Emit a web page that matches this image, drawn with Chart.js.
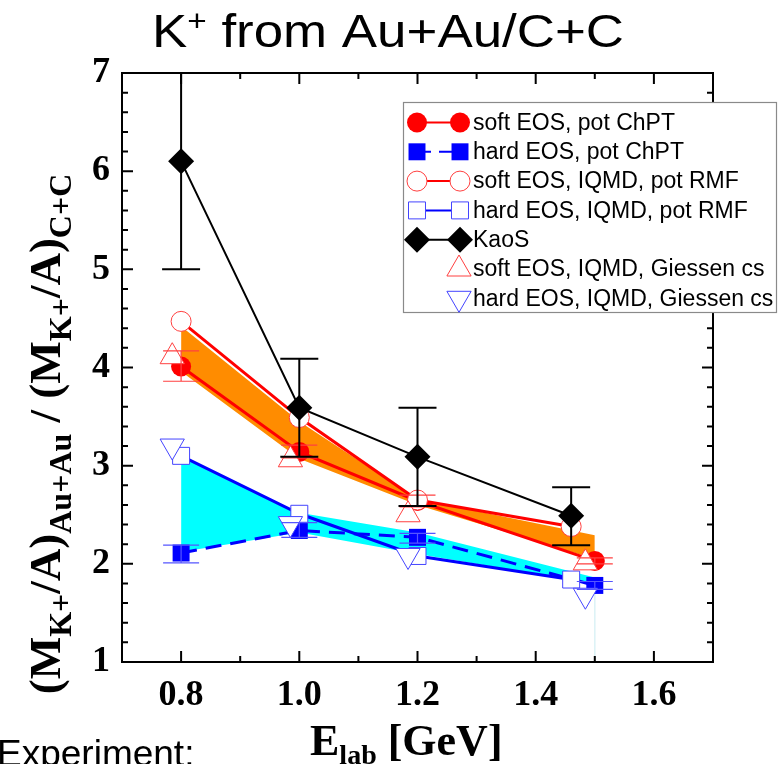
<!DOCTYPE html>
<html>
<head>
<meta charset="utf-8">
<script src="https://cdn.jsdelivr.net/npm/chart.js@4"></script>
<style>
  html, body { margin: 0; padding: 0; background: #ffffff; }
  #wrap { width: 781px; height: 764px; position: relative; overflow: hidden; }
</style>
</head>
<body>
<div id="wrap"><canvas id="c" width="781" height="764"></canvas></div>
<script>
// ---- data: K+ multiplicity ratio (Au+Au / C+C) versus beam energy ----
const energies = [0.8, 1.0, 1.2, 1.5];
const softChPT = [4.01, 3.14, 2.64, 2.03];
const softChPTLo = [3.86, 3.08, 2.58, 2.00];
const softChPTHi = [4.17, 3.21, 2.70, 2.06];
const hardChPT = [2.11, 2.34, 2.27, 1.78];
const hardChPTLo = [2.01, 2.27, 2.21, 1.74];
const hardChPTHi = [2.19, 2.42, 2.31, 1.82];

const rmfEnergies = [0.8, 1.0, 1.2, 1.46];
const softRMF = [4.47, 3.49, 2.65, 2.38];
const hardRMF = [3.10, 2.51, 2.08, 1.84];

const kaosEnergies = [0.8, 1.0, 1.2, 1.46];
const kaos = [6.10, 3.59, 3.09, 2.49];
const kaosLo = [5.00, 3.09, 2.59, 2.19];
const kaosHi = [7.30, 4.09, 3.59, 2.78];

const giessenEnergies = [0.785, 0.985, 1.184, 1.484];
const softGiessen = [4.11, 3.06, 2.50, 2.01];
const hardGiessen = [3.20, 2.41, 2.085, 1.68];

const bandEnergies = [0.8, 1.0, 1.2, 1.5];
const softBandTop = [4.42, 3.45, 2.66, 2.29];
const softBandBottom = [3.96, 3.07, 2.60, 2.05];
const hardBandTop = [3.10, 2.52, 2.32, 1.86];
const hardBandBottom = [2.12, 2.32, 2.10, 1.80];
const bandEdgeX = [1.5, 1.5];
const bandEdgeY = [1.80, 1.00];

const xTickLabels = ['0.8', '1.0', '1.2', '1.4', '1.6'];
const yTickLabels = ['1', '2', '3', '4', '5', '6', '7'];
const seriesNames = [
  'soft EOS, pot ChPT',
  'hard EOS, pot ChPT',
  'soft EOS, IQMD, pot RMF',
  'hard EOS, IQMD, pot RMF',
  'KaoS',
  'soft EOS, IQMD, Giessen cs',
  'hard EOS, IQMD, Giessen cs'
];

// ---- styling ----
const RED = '#ff0000', BLUE = '#0000ff', ORANGE = '#ff8c00', CYAN = '#00ffff', BLACK = '#000000';
const SERIF = '"Liberation Serif", "Times New Roman", serif';
const SANS = '"Liberation Sans", Arial, Helvetica, sans-serif';

function pts(xs, ys) { return xs.map((x, i) => ({ x: x, y: ys[i] })); }

const datasets = [
  { data: pts(bandEnergies, softBandTop), fill: '+1', backgroundColor: ORANGE, borderWidth: 0, pointRadius: 0, order: 20 },
  { data: pts(bandEnergies, softBandBottom), fill: false, borderWidth: 0, pointRadius: 0, order: 20 },
  { data: pts(bandEnergies, hardBandTop), fill: '+1', backgroundColor: CYAN, borderWidth: 0, pointRadius: 0, order: 20 },
  { data: pts(bandEnergies, hardBandBottom), fill: false, borderWidth: 0, pointRadius: 0, order: 20 },
  { data: pts(bandEdgeX, bandEdgeY), borderColor: 'rgba(215,240,245,0.7)', borderWidth: 1, pointRadius: 0, order: 19 },

  { legendRow: 1, data: pts(energies, hardChPT), borderColor: BLUE, borderWidth: 3, borderDash: [16, 9],
    pointStyle: 'rect', pointRadius: 12, pointBackgroundColor: BLUE, pointBorderColor: BLUE, pointBorderWidth: 0, order: 8 },
  { legendRow: 3, data: pts(rmfEnergies, hardRMF), borderColor: BLUE, borderWidth: 3,
    pointStyle: 'rect', pointRadius: 12, pointBackgroundColor: '#ffffff', pointBorderColor: '#4444ff', pointBorderWidth: 1, order: 7 },
  { legendRow: 0, data: pts(energies, softChPT), borderColor: RED, borderWidth: 3,
    pointStyle: 'circle', pointRadius: 10, pointBackgroundColor: RED, pointBorderColor: RED, pointBorderWidth: 0, order: 6 },
  { legendRow: 2, data: pts(rmfEnergies, softRMF), borderColor: RED, borderWidth: 3,
    pointStyle: 'circle', pointRadius: 10, pointBackgroundColor: '#ffffff', pointBorderColor: '#ff4040', pointBorderWidth: 1, order: 5 },
  { legendRow: 5, data: pts(giessenEnergies, softGiessen), showLine: false,
    pointStyle: 'triangle', pointRadius: 14, pointBackgroundColor: '#ffffff', pointBorderColor: '#ff4040', pointBorderWidth: 1, order: 4 },
  { legendRow: 6, data: pts(giessenEnergies, hardGiessen), showLine: false,
    pointStyle: 'triangle', pointRotation: 180, pointRadius: 14, pointBackgroundColor: '#ffffff', pointBorderColor: '#4444ff', pointBorderWidth: 1, order: 3 },
  { legendRow: 4, data: pts(kaosEnergies, kaos), borderColor: BLACK, borderWidth: 2,
    pointStyle: 'rectRot', pointRadius: 13, pointBackgroundColor: BLACK, pointBorderColor: BLACK, pointBorderWidth: 0, order: 1 }
];

// error bars: [x values, lows, highs, colour, line width, cap half-width]
const errorBars = [
  [energies, softChPTLo, softChPTHi, '#ff4040', 1.2, 18],
  [energies, hardChPTLo, hardChPTHi, '#5555ff', 1.2, 18],
  [kaosEnergies, kaosLo, kaosHi, BLACK, 2, 19]
];

// draws a run of text pieces (main / subscript / superscript) from a start point
function richWidth(ctx, parts) {
  let w = 0;
  for (const p of parts) { ctx.font = p.font; w += ctx.measureText(p.t).width; }
  return w;
}
function drawRich(ctx, parts, x, y) {
  let cx = x;
  for (const p of parts) {
    ctx.font = p.font;
    ctx.fillText(p.t, cx, y + (p.dy || 0));
    cx += ctx.measureText(p.t).width;
  }
}

const decor = {
  id: 'decor',
  afterDatasetsDraw(chart) {
    const ctx = chart.ctx, xs = chart.scales.x, ys = chart.scales.y, a = chart.chartArea;
    ctx.save();
    ctx.beginPath();
    ctx.rect(a.left, a.top, a.right - a.left, a.bottom - a.top);
    ctx.clip();
    for (const [ex, lo, hi, col, lw, cap] of errorBars) {
      ctx.strokeStyle = col;
      ctx.lineWidth = lw;
      ex.forEach((xv, i) => {
        const px = xs.getPixelForValue(xv);
        const y1 = ys.getPixelForValue(lo[i]);
        const y2 = ys.getPixelForValue(hi[i]);
        ctx.beginPath();
        ctx.moveTo(px, y1); ctx.lineTo(px, y2);
        ctx.moveTo(px - cap, y1); ctx.lineTo(px + cap, y1);
        ctx.moveTo(px - cap, y2); ctx.lineTo(px + cap, y2);
        ctx.stroke();
      });
    }
    ctx.restore();
  },
  afterDraw(chart) {
    const ctx = chart.ctx, xs = chart.scales.x, ys = chart.scales.y, a = chart.chartArea;
    ctx.save();

    // frame
    ctx.strokeStyle = BLACK;
    ctx.lineWidth = 2;
    ctx.strokeRect(a.left, a.top, a.right - a.left, a.bottom - a.top);

    // inward tick marks on all four sides
    ctx.lineWidth = 2;
    ctx.beginPath();
    for (const t of xs.ticks) {
      const px = xs.getPixelForValue(t.value);
      if (px <= a.left + 1 || px >= a.right - 1) continue;
      const len = t.label ? 11 : 6;
      ctx.moveTo(px, a.bottom); ctx.lineTo(px, a.bottom - len);
      ctx.moveTo(px, a.top); ctx.lineTo(px, a.top + len);
    }
    for (const t of ys.ticks) {
      const py = ys.getPixelForValue(t.value);
      if (py <= a.top + 1 || py >= a.bottom - 1) continue;
      const len = t.label ? 11 : 6;
      ctx.moveTo(a.left, py); ctx.lineTo(a.left + len, py);
      ctx.moveTo(a.right, py); ctx.lineTo(a.right - len, py);
    }
    ctx.stroke();

    // legend
    const L = { left: 403, top: 102, right: 776, bottom: 312, row0: 122.5, step: 29.3, m1: 417, m2: 460, text: 473 };
    ctx.fillStyle = '#ffffff';
    ctx.fillRect(L.left, L.top, L.right - L.left, L.bottom - L.top);
    ctx.strokeStyle = '#8a8a8a';
    ctx.lineWidth = 1.2;
    ctx.strokeRect(L.left + 0.5, L.top + 0.5, L.right - L.left, L.bottom - L.top);
    chart.data.datasets.forEach(ds => {
      if (ds.legendRow === undefined) return;
      const y = L.row0 + ds.legendRow * L.step;
      if (ds.showLine !== false) {
        ctx.save();
        ctx.strokeStyle = ds.borderColor;
        ctx.lineWidth = 2;
        ctx.setLineDash(ds.borderDash ? [14, 8] : []);
        ctx.beginPath();
        ctx.moveTo(L.m1, y); ctx.lineTo(L.m2, y);
        ctx.stroke();
        ctx.restore();
      }
      const opts = { pointStyle: ds.pointStyle, radius: ds.pointRadius, rotation: ds.pointRotation || 0, borderWidth: ds.pointBorderWidth };
      const marks = ds.showLine === false ? [459] : [L.m1, L.m2];
      for (const mx of marks) {
        ctx.save();
        ctx.fillStyle = ds.pointBackgroundColor;
        ctx.strokeStyle = ds.pointBorderColor;
        ctx.lineWidth = ds.pointBorderWidth;
        Chart.helpers.drawPoint(ctx, opts, mx, y);
        ctx.restore();
      }
      ctx.fillStyle = BLACK;
      ctx.font = '23px ' + SANS;
      ctx.textBaseline = 'middle';
      ctx.textAlign = 'left';
      ctx.fillText(seriesNames[ds.legendRow], L.text, y + 1);
    });

    ctx.textBaseline = 'alphabetic';
    ctx.textAlign = 'left';
    ctx.fillStyle = BLACK;

    // chart title
    const titleParts = [
      { t: 'K', font: '46px ' + SANS },
      { t: '+', font: '29px ' + SANS, dy: -16 },
      { t: ' from Au+Au/C+C', font: '46px ' + SANS }
    ];
    const tw = richWidth(ctx, titleParts);
    ctx.save();
    ctx.translate(152, 47);
    ctx.scale(472 / tw, 1);
    drawRich(ctx, titleParts, 0, 0);
    ctx.restore();

    // y-axis title (rotated)
    const yParts = [
      { t: '(M', font: 'bold 45px ' + SERIF },
      { t: 'K+', font: 'bold 32px ' + SERIF, dy: 11 },
      { t: '/A)', font: 'bold 45px ' + SERIF },
      { t: 'Au+Au', font: 'bold 32px ' + SERIF, dy: 11 },
      { t: ' / (M', font: 'bold 45px ' + SERIF },
      { t: 'K+', font: 'bold 32px ' + SERIF, dy: 11 },
      { t: '/A)', font: 'bold 45px ' + SERIF },
      { t: 'C+C', font: 'bold 32px ' + SERIF, dy: 11 }
    ];
    const yw = richWidth(ctx, yParts);
    ctx.save();
    ctx.translate(60, 434);
    ctx.rotate(-Math.PI / 2);
    drawRich(ctx, yParts, -yw / 2, 0);
    ctx.restore();

    // x-axis title
    drawRich(ctx, [
      { t: 'E', font: 'bold 44px ' + SERIF },
      { t: 'lab', font: 'bold 28px ' + SERIF, dy: 9 },
      { t: ' [GeV]', font: 'bold 44px ' + SERIF }
    ], 310, 755);

    // caption at the lower left
    ctx.font = '37px ' + SANS;
    ctx.fillText('Experiment:', -3, 766);

    ctx.restore();
  }
};

new Chart(document.getElementById('c'), {
  type: 'line',
  data: { datasets: datasets },
  options: {
    responsive: false,
    animation: false,
    devicePixelRatio: 1,
    events: [],
    layout: { padding: { top: 73, right: 68, left: 0, bottom: 0 } },
    elements: { line: { tension: 0 } },
    plugins: { legend: { display: false }, tooltip: { enabled: false }, title: { display: false } },
    scales: {
      x: {
        type: 'linear', min: 0.7, max: 1.7,
        afterFit(scale) { scale.height = 102; },
        grid: { display: false, drawTicks: false },
        border: { display: false },
        ticks: {
          stepSize: 0.1, padding: 12, color: BLACK, maxRotation: 0, autoSkip: false,
          font: { family: SERIF, weight: 'bold', size: 36 },
          callback(v) {
            const s = (Math.round(v * 10) / 10).toFixed(1);
            return xTickLabels.includes(s) ? s : '';
          }
        }
      },
      y: {
        type: 'linear', min: 1, max: 7,
        afterFit(scale) { scale.width = 122; },
        grid: { display: false, drawTicks: false },
        border: { display: false },
        ticks: {
          stepSize: 0.2, padding: 12, color: BLACK, autoSkip: false,
          font: { family: SERIF, weight: 'bold', size: 36 },
          callback(v) {
            const s = String(Math.round(v * 10) / 10);
            return yTickLabels.includes(s) ? s : '';
          }
        }
      }
    }
  },
  plugins: [decor]
});
</script>
</body>
</html>
